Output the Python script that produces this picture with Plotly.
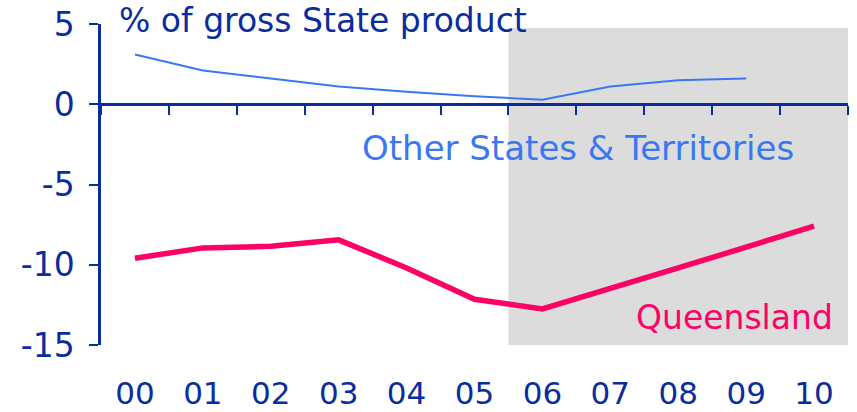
import plotly.graph_objects as go

# Financial years, 2000 to 2010
years = ["00", "01", "02", "03", "04", "05", "06", "07", "08", "09", "10"]
year_pos = list(range(len(years)))

# Net position, % of gross State product
other_states = [3.1, 2.1, 1.6, 1.1, 0.78, 0.5, 0.28, 1.1, 1.5, 1.6]
queensland = [-9.6, -8.95, -8.85, -8.45, -10.2, -12.15, -12.75, -11.5, -10.2, -8.9, -7.6]

y_ticks = [5, 0, -5, -10, -15]
# forecast period shaded from 2006 onward
shade_from, shade_to = 5.5, 10.5
boundaries = [i - 0.5 for i in range(len(years) + 1)]

AXIS = "#0a2d9e"
PINK = "#ff0066"
BLUE = "#3a78f2"
FONT = "DejaVu Sans"

fig = go.Figure()

fig.add_trace(go.Scatter(
    x=year_pos[:len(other_states)], y=other_states, mode="lines",
    line=dict(color=BLUE, width=2), xaxis="x2", hoverinfo="skip",
))
fig.add_trace(go.Scatter(
    x=year_pos, y=queensland, mode="lines",
    line=dict(color=PINK, width=5.5), hoverinfo="skip",
))

fig.add_shape(type="rect", xref="x", yref="y",
              x0=shade_from, x1=shade_to, y0=-15, y1=4.75,
              fillcolor="#dcdcdc", line=dict(width=0), layer="below")

fig.add_annotation(x=-0.27, y=1, xref="x", yref="paper", text="% of gross State product",
                   showarrow=False, xanchor="left", yanchor="middle", yshift=4,
                   font=dict(family=FONT, size=33, color=AXIS))
fig.add_annotation(x=3.31, y=-2.75, xref="x", yref="y", text="Other States & Territories",
                   showarrow=False, xanchor="left", yanchor="middle",
                   font=dict(family=FONT, size=34, color=BLUE))
fig.add_annotation(x=7.35, y=-13.3, xref="x", yref="y", text="Queensland",
                   showarrow=False, xanchor="left", yanchor="middle",
                   font=dict(family=FONT, size=33, color=PINK))

fig.update_layout(
    width=857, height=412,
    margin=dict(l=101, r=9, t=24, b=67),
    paper_bgcolor="white", plot_bgcolor="white",
    showlegend=False,
    font=dict(family=FONT, color=AXIS),
    xaxis=dict(
        range=[-0.5, 10.5], tickmode="array", tickvals=year_pos, ticktext=years,
        showline=False, ticks="", showgrid=False, zeroline=False, automargin=False,
        ticklabelstandoff=27, tickfont=dict(family=FONT, size=31, color=AXIS),
    ),
    xaxis2=dict(
        range=[-0.5, 10.5], overlaying="x", anchor="free", position=0.75, side="bottom",
        tickmode="array", tickvals=boundaries, showticklabels=False,
        ticks="outside", ticklen=9, tickwidth=2, tickcolor=AXIS, automargin=False,
        showline=True, linewidth=2.5, linecolor=AXIS, showgrid=False, zeroline=False,
    ),
    yaxis=dict(
        range=[-15, 5], tickmode="array", tickvals=y_ticks,
        ticktext=[str(v) for v in y_ticks], automargin=False,
        ticks="outside", ticklen=9, tickwidth=2, tickcolor=AXIS,
        showline=True, linewidth=2.5, linecolor=AXIS, showgrid=False, zeroline=False,
        ticklabelstandoff=8, tickfont=dict(family=FONT, size=33, color=AXIS),
    ),
)

fig.write_html("out.html")
